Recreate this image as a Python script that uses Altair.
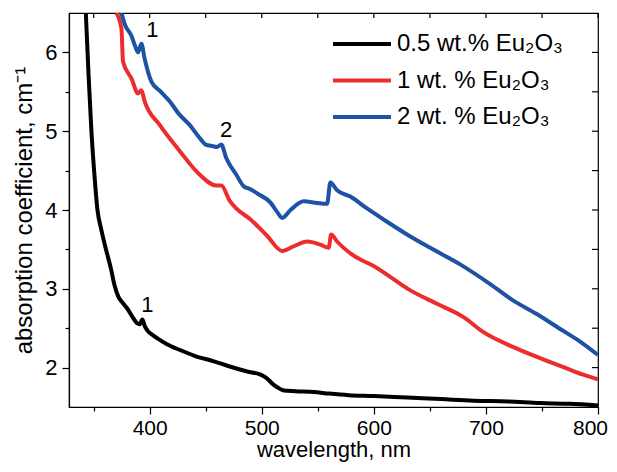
import altair as alt
import pandas as pd

# ---- data ----
series_names = ["0.5 wt.% Eu₂O₃", "1 wt. % Eu₂O₃", "2 wt. % Eu₂O₃"]
series_colors = ["#000000", "#EC2D2D", "#1E52A5"]

black_x = [343, 345.5, 348, 350.4, 353.4, 356.8, 361.0, 365.5, 368.5, 372.0, 376, 380,
           385.7, 389, 391, 393.5, 395.5, 398, 402, 406.9, 415, 427.6, 440, 457.3, 470,
           487, 498.9, 504, 510.7, 515, 519.6, 530, 546.4, 560, 577.6, 600, 629.6, 660,
           689, 720, 748.3, 775, 800]
black_y = [6.5, 5.7, 5.0, 4.5, 4.0, 3.75, 3.5, 3.25, 3.05, 2.90, 2.82, 2.75,
           2.62, 2.56, 2.55, 2.61, 2.53, 2.47, 2.42, 2.37, 2.30, 2.22, 2.15, 2.08, 2.02,
           1.95, 1.91, 1.87, 1.78, 1.74, 1.71, 1.70, 1.69, 1.67, 1.65, 1.64, 1.62, 1.60,
           1.58, 1.57, 1.55, 1.54, 1.52]

red_x = [370.3, 374.8, 376.2, 383.7, 389.6, 392.6, 395.5, 408.9, 426.7, 444.5, 459.4,
         463.9, 471.3, 477.2, 490, 504.9, 518.2, 528.6, 540.5, 552.3, 559.7, 561.9, 567.2,
         582, 599.8, 632.5, 656.3, 680, 697.8, 724.5, 748.3, 772, 786.9, 800]
red_y = [6.5, 6.30, 5.88, 5.67, 5.48, 5.52, 5.38, 5.08, 4.75, 4.45, 4.31,
         4.31, 4.12, 4.02, 3.88, 3.67, 3.48, 3.54, 3.60, 3.56, 3.52, 3.69, 3.60,
         3.42, 3.29, 2.98, 2.81, 2.64, 2.45, 2.26, 2.12, 1.99, 1.91, 1.85]

blue_x = [374.8, 378, 383.7, 387, 389.6, 392.6, 395.5, 401.5, 410, 417.8, 426, 435.6,
          445.4, 450, 456.4, 460, 463.9, 468.3, 477.2, 484, 489, 496, 508, 514, 518.2,
          525.6, 537.5, 549.4, 558.3, 561.2, 567.2, 579, 593.9, 608.7, 629.6,
          650.3, 677, 703.8, 724.5, 745.4, 766.2, 784, 800]
blue_y = [6.5, 6.35, 6.21, 6.08, 6.0, 6.11, 5.92, 5.63, 5.5, 5.38, 5.22, 5.08,
          4.90, 4.83, 4.81, 4.80, 4.83, 4.66, 4.45, 4.30, 4.27, 4.21, 4.09, 3.97, 3.90,
          4.00, 4.11, 4.09, 4.08, 4.35, 4.25, 4.17, 4.02, 3.88, 3.69,
          3.52, 3.31, 3.06, 2.85, 2.68, 2.49, 2.33, 2.16]

ann_x = [402.4, 468.3, 398.0]
ann_y = [6.28, 5.02, 2.79]
ann_text = ["1", "2", "1"]

x_ticks = [350, 400, 450, 500, 550, 600, 650, 700, 750, 800]
y_ticks = [2, 2.5, 3, 3.5, 4, 4.5, 5, 5.5, 6]

# ---- tables ----
rows = []
for name, xs, ys in zip(series_names, [black_x, red_x, blue_x], [black_y, red_y, blue_y]):
    for a, b in zip(xs, ys):
        rows.append({"series": name, "wl": a, "k": b})
df = pd.DataFrame(rows)
ann_df = pd.DataFrame({"wl": ann_x, "k": ann_y, "t": ann_text})
xt_df = pd.DataFrame({"wl": x_ticks})
yt_df = pd.DataFrame({"k": y_ticks})

W, H = 529, 394
FONT = "Liberation Sans"

x_scale = alt.Scale(domain=[328, 800], nice=False, zero=False)
y_scale = alt.Scale(domain=[1.5, 6.5], nice=False, zero=False)

x_axis = alt.Axis(title="wavelength, nm", values=x_ticks, format="d",
                  labelExpr="datum.value % 100 === 0 ? datum.label : ''",
                  tickSize={"condition": {"test": "datum.value % 100 === 0", "value": 7}, "value": 4},
                  labelOffset={"condition": {"test": "datum.value === 800", "value": -8}, "value": 0},
                  grid=False, labelFontSize=21, titleFontSize=22,
                  labelPadding=3, titlePadding=1, labelFlush=False,
                  domainColor="black", tickColor="black", labelColor="black",
                  titleColor="black", titleFontWeight="normal")
y_axis = alt.Axis(title="absorption coefficient, cm⁻¹", values=y_ticks, format=".0f",
                  labelExpr="datum.value % 1 === 0 ? datum.label : ''",
                  tickSize={"condition": {"test": "datum.value % 1 === 0", "value": 7}, "value": 4},
                  grid=False, labelFontSize=22, titleFontSize=24,
                  labelPadding=5, titlePadding=8, labelFlush=False,
                  domainColor="black", tickColor="black", labelColor="black",
                  titleColor="black", titleFontWeight="normal")

X = alt.X("wl:Q", scale=x_scale, axis=x_axis)
Y = alt.Y("k:Q", scale=y_scale, axis=y_axis)

lines = alt.Chart(df).mark_line(strokeWidth=4, clip=True, strokeJoin="round",
                                interpolate="monotone").encode(
    x=X, y=Y,
    color=alt.Color("series:N", scale=alt.Scale(domain=series_names, range=series_colors), legend=None),
    order=alt.Order("wl:Q"),
)

top_ticks = alt.Chart(xt_df).mark_rule(color="black", strokeWidth=1.2).encode(
    x=X, y=alt.value(0), y2=alt.value(5),
)
right_ticks = alt.Chart(yt_df).mark_rule(color="black", strokeWidth=1.2).encode(
    y=Y, x=alt.value(W - 6), x2=alt.value(W),
)

ann = alt.Chart(ann_df).mark_text(fontSize=22, font=FONT, color="black").encode(
    x=X, y=Y, text="t:N",
)

legend_layers = []
one = pd.DataFrame({"a": [0]})
for i, (name, col) in enumerate(zip(series_names, series_colors)):
    yy = 31 + 36.5 * i
    legend_layers.append(
        alt.Chart(one).mark_rule(color=col, strokeWidth=4).encode(
            x=alt.value(264), x2=alt.value(322), y=alt.value(yy)))
    legend_layers.append(
        alt.Chart(one).mark_text(align="left", baseline="middle", fontSize=24, font=FONT,
                                 color="black").encode(
            x=alt.value(328), y=alt.value(yy), text=alt.value(name)))

chart = alt.layer(lines, top_ticks, right_ticks, ann, *legend_layers).properties(
    width=W, height=H,
    autosize=alt.AutoSizeParams(type="none"),
    padding={"left": 61, "top": 5, "right": 11, "bottom": 57},
    background="white",
).configure_view(stroke="black", strokeWidth=1.2).configure_axis(
    labelFont=FONT, titleFont=FONT, domainWidth=1.2, tickWidth=1.2
)

chart.save("out.html", embed_options={"renderer": "svg", "actions": False})
